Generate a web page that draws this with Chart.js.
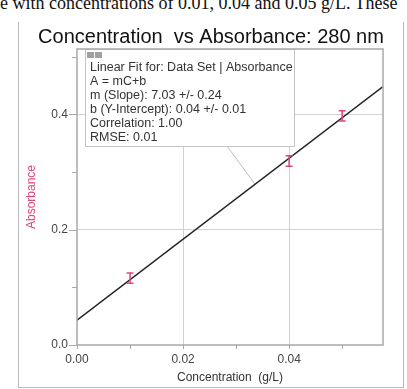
<!DOCTYPE html>
<html>
<head>
<meta charset="utf-8">
<script src="https://cdn.jsdelivr.net/npm/chart.js@4.4.1/dist/chart.umd.min.js"></script>
<style>
  html, body { margin: 0; padding: 0; background: #fff; }
  #wrap { position: relative; width: 407px; height: 389px; overflow: hidden; }
  #doc { position: absolute; left: 0; top: -9px; font: 18px 'Liberation Serif', 'Times New Roman', serif; line-height: 24px; white-space: nowrap; color: #111; }
  #frame { position: absolute; left: 18px; top: 22px; width: 384px; height: 365px; border: 1.5px solid #b8b8b8; border-top: none; }
  canvas { position: absolute; left: 0; top: 0; }
</style>
</head>
<body>
<div id="wrap">
  <div id="doc">e with concentrations of 0.01, 0.04 and 0.05 g/L. These</div>
  <div id="frame"></div>
  <canvas id="myChart" width="407" height="389"></canvas>
</div>
<script>
document.addEventListener("DOMContentLoaded", function () {
  // measured data (g/L vs absorbance)
  const concentration = [0.01, 0.04, 0.05];
  const absorbance = [0.116, 0.319, 0.397];
  const absError = [0.009, 0.009, 0.009];

  // fitted line end points
  const fitX = [0, 0.0577];
  const fitY = [0.043, 0.448];

  const fitLines = [
    'Linear Fit for: Data Set | Absorbance',
    'A = mC+b',
    'm (Slope): 7.03 +/- 0.24',
    'b (Y-Intercept): 0.04 +/- 0.01',
    'Correlation: 1.00',
    'RMSE: 0.01'
  ];

  const chartTitle = 'Concentration  vs Absorbance: 280 nm';
  const font = "'Liberation Sans', Arial, sans-serif";
  const pink = '#e0457b';

  const isMajorX = v => Math.round(v * 100) % 2 === 0;
  const isMajorY = v => Math.round(v * 10) % 2 === 0;

  const extras = {
    id: 'extras',
    beforeDatasetsDraw(chart) {
      const ctx = chart.ctx, a = chart.chartArea;
      const xs = chart.scales.x, ys = chart.scales.y;
      ctx.save();
      // title
      ctx.fillStyle = '#111';
      ctx.font = '20px ' + font;
      ctx.textAlign = 'center';
      ctx.textBaseline = 'middle';
      ctx.fillText(chartTitle, 211, 37);

      // leader line from the fit box to the line
      const px = 255;
      const vx = xs.getValueForPixel(px);
      const vy = fitY[0] + (fitY[1] - fitY[0]) * (vx - fitX[0]) / (fitX[1] - fitX[0]);
      ctx.strokeStyle = '#bdbdbd';
      ctx.lineWidth = 1;
      ctx.beginPath();
      ctx.moveTo(227, 146);
      ctx.lineTo(px, ys.getPixelForValue(vy));
      ctx.stroke();

      // fit box
      const bx = a.left + 8, by = a.top, bw = 209, bh = 97;
      ctx.fillStyle = '#fff';
      ctx.fillRect(bx, by, bw, bh);
      ctx.strokeStyle = '#c4c4c4';
      ctx.strokeRect(bx + 0.5, by + 0.5, bw, bh);
      ctx.fillStyle = '#a0a0a0';
      ctx.fillRect(bx + 2, by + 3, 7, 6);
      ctx.fillRect(bx + 10, by + 3, 7, 6);
      ctx.fillStyle = '#333';
      ctx.font = '12.5px ' + font;
      ctx.textAlign = 'left';
      ctx.textBaseline = 'middle';
      fitLines.forEach((t, i) => ctx.fillText(t, bx + 5, by + 19 + i * 14));
      ctx.restore();
    },
    afterDatasetsDraw(chart) {
      const ctx = chart.ctx, a = chart.chartArea;
      const xs = chart.scales.x, ys = chart.scales.y;
      ctx.save();
      // error bars
      ctx.strokeStyle = pink;
      ctx.lineWidth = 1.5;
      concentration.forEach((c, i) => {
        const x = xs.getPixelForValue(c);
        const y1 = ys.getPixelForValue(absorbance[i] + absError[i]);
        const y2 = ys.getPixelForValue(absorbance[i] - absError[i]);
        ctx.beginPath();
        ctx.moveTo(x, y1); ctx.lineTo(x, y2);
        ctx.moveTo(x - 3.5, y1); ctx.lineTo(x + 3.5, y1);
        ctx.moveTo(x - 3.5, y2); ctx.lineTo(x + 3.5, y2);
        ctx.stroke();
      });
      // plot border
      ctx.strokeStyle = '#a8a8a8';
      ctx.lineWidth = 1.5;
      ctx.strokeRect(a.left, a.top, a.right - a.left, a.bottom - a.top);
      // tick marks
      ctx.lineWidth = 1;
      ctx.beginPath();
      ys.ticks.forEach(t => {
        const y = Math.round(ys.getPixelForValue(t.value)) + 0.5;
        const len = isMajorY(t.value) ? 8 : 5;
        ctx.moveTo(a.left - len, y); ctx.lineTo(a.left, y);
      });
      xs.ticks.forEach(t => {
        const x = Math.round(xs.getPixelForValue(t.value)) + 0.5;
        ctx.moveTo(x, a.bottom); ctx.lineTo(x, a.bottom + 4);
      });
      ctx.stroke();
      ctx.restore();
    }
  };

  const config = {
    type: 'scatter',
    data: {
      datasets: [{
        label: 'Fit',
        data: fitX.map((x, i) => ({ x: x, y: fitY[i] })),
        showLine: true,
        borderColor: '#222',
        borderWidth: 1.5,
        pointRadius: 0
      }, {
        label: 'Absorbance',
        data: concentration.map((x, i) => ({ x: x, y: absorbance[i] })),
        showLine: false,
        pointRadius: 0
      }]
    },
    plugins: [extras],
    options: {
      responsive: false,
      animation: false,
      layout: { padding: { left: 20, top: 49, right: 24, bottom: 0 } },
      plugins: { legend: { display: false }, tooltip: { enabled: false } },
      scales: {
        x: {
          type: 'linear', min: 0, max: 0.0577,
          afterFit(scale) { scale.height = 44; },
          border: { display: false },
          grid: {
            drawTicks: false,
            color: c => isMajorX(c.tick.value) && c.tick.value > 0 ? '#d2d2d2' : 'rgba(0,0,0,0)'
          },
          ticks: {
            stepSize: 0.01, includeBounds: false, autoSkip: false, maxRotation: 0,
            padding: 7, color: '#444', font: { family: font, size: 12 },
            callback: v => isMajorX(v) ? v.toFixed(2) : ''
          },
          title: {
            display: true, text: 'Concentration  (g/L)', color: '#333',
            font: { family: font, size: 12 }, padding: { top: 0, bottom: 4 }
          }
        },
        y: {
          type: 'linear', min: 0, max: 0.513,
          afterFit(scale) { scale.width = 57; },
          border: { display: false },
          grid: {
            drawTicks: false,
            color: c => isMajorY(c.tick.value) && c.tick.value > 0 ? '#d2d2d2' : 'rgba(0,0,0,0)'
          },
          ticks: {
            stepSize: 0.1, includeBounds: false, autoSkip: false,
            padding: 9, color: '#444', font: { family: font, size: 12 },
            callback: v => isMajorY(v) ? v.toFixed(1) : ''
          },
          title: {
            display: true, text: 'Absorbance', color: pink,
            font: { family: font, size: 12 }, padding: { top: 4, bottom: 0 }
          }
        }
      }
    }
  };

  var ctx = document.getElementById('myChart').getContext('2d');
  var myChart = new Chart(ctx, config);
});
</script>
</body>
</html>
